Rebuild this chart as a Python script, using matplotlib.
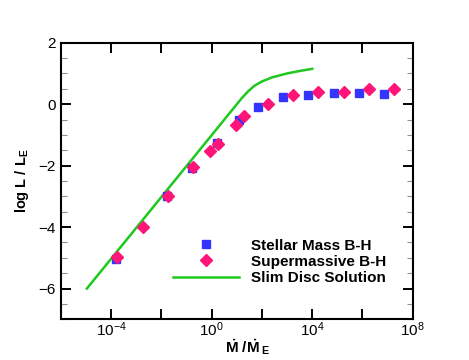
import numpy as np
import matplotlib
matplotlib.use('Agg')
import matplotlib.pyplot as plt
from matplotlib.ticker import FixedLocator, MultipleLocator, FuncFormatter

plt.rcParams['font.family'] = ['Liberation Sans', 'DejaVu Sans']
plt.rcParams['mathtext.fontset'] = 'custom'
plt.rcParams['mathtext.rm'] = 'Liberation Sans'
plt.rcParams['mathtext.bf'] = 'Liberation Sans:bold'
plt.rcParams['mathtext.it'] = 'Liberation Sans:italic'

# log10(Mdot/Mdot_E), log L/L_E
stellar_logx = [-3.8, -1.78, -0.8, 0.21, 1.09, 1.85, 2.85, 3.85, 4.86, 5.85, 6.86]
stellar_logl = [-5.03, -3.0, -2.07, -1.26, -0.52, -0.1, 0.24, 0.3, 0.37, 0.35, 0.34]

smbh_logx = [-3.76, -2.75, -1.74, -0.74, -0.06, 0.26, 0.96, 1.28, 2.25, 3.25, 4.25, 5.25, 6.25, 7.24]
smbh_logl = [-4.98, -3.99, -3.0, -2.04, -1.51, -1.29, -0.69, -0.39, 0.01, 0.3, 0.41, 0.4, 0.48, 0.48]

slim_logx = [-4.97, 1.2, 1.45, 1.7, 2.0, 2.4, 3.0, 3.5, 4.0]
slim_logl = [-6.0, 0.2, 0.42, 0.6, 0.74, 0.87, 1.0, 1.08, 1.15]

fig = plt.figure(figsize=(4.69, 3.6), dpi=100)
ax = fig.add_axes([61 / 469, 1 - 319.3 / 360, 351.7 / 469, 276.6 / 360])

ax.plot(10.0 ** np.array(slim_logx), slim_logl, color='#1ec81e', lw=1.8,
        label='Slim Disc Solution', zorder=2)
ax.plot(10.0 ** np.array(stellar_logx), stellar_logl, 's', color='#3434ff', ms=6,
        mec='#3434ff', label='Stellar Mass B-H', zorder=3)
ax.plot(10.0 ** np.array(smbh_logx), smbh_logl, 'D', color='#ff1478', ms=6,
        mec='#ff1478', label='Supermassive B-H', zorder=4)

ax.set_xscale('log')
ax.set_xlim(1e-6, 1e8)
ax.set_ylim(-7, 2)

ax.xaxis.set_major_locator(FixedLocator([10.0 ** k for k in range(-6, 9, 2)]))
ax.xaxis.set_minor_locator(FixedLocator([]))
ax.xaxis.set_major_formatter(
    FuncFormatter(lambda v, p: '' if round(np.log10(v)) % 4 else
                  r'$\mathdefault{10^{%d}}$' % round(np.log10(v))))
ax.yaxis.set_major_locator(MultipleLocator(2))
ax.yaxis.set_minor_locator(MultipleLocator(0.5))

ax.tick_params(which='both', direction='in', top=True, right=True)
ax.tick_params(which='major', length=7, width=1.4, color='black')
ax.tick_params(which='minor', length=4.5, width=0.8, color='#909090')
ax.tick_params(axis='both', labelsize=11)
ax.tick_params(axis='x', pad=1)
ax.tick_params(axis='y', pad=4)
for lab in ax.get_xticklabels():
    lab.set_bbox(dict(facecolor='white', edgecolor='none', pad=1.5))

for sp in ax.spines.values():
    sp.set_linewidth(1.5)

ax.set_xlabel(r'$\mathbf{\dot{M}\ /\dot{M}_{\ E}}$', fontsize=11)
ax.xaxis.set_label_coords(0.53, -0.065)
ax.set_ylabel(r'$\mathbf{log\ L\ /\ L_E}$', fontsize=10.5, labelpad=5)

handles, labels = ax.get_legend_handles_labels()
order = [1, 2, 0]
ax.legend([handles[i] for i in order], [labels[i] for i in order],
          loc='upper left', bbox_to_anchor=(0.318, 0.292), frameon=False,
          borderpad=0, borderaxespad=0, handlelength=4.3, handletextpad=0.8,
          labelspacing=0.15, prop={'weight': 'bold', 'size': 11})

fig.savefig('out.png', dpi=100)
